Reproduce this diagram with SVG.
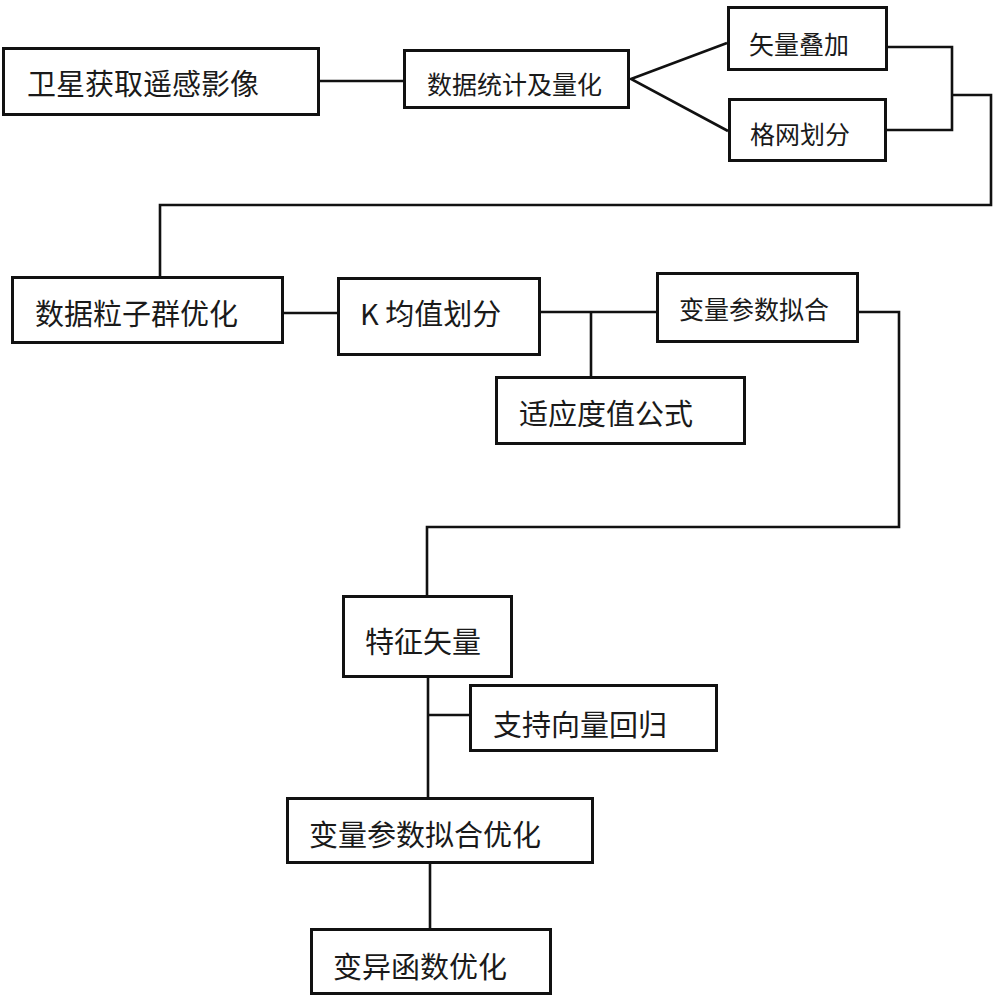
<svg xmlns="http://www.w3.org/2000/svg" width="1000" height="997" viewBox="0 0 1000 997">
<style>
.box{fill:#fff;stroke:#111;stroke-width:3}
.c{fill:none;stroke:#111;stroke-width:2.6;stroke-linejoin:miter}
text{font-family:"Noto Sans CJK SC","Liberation Serif",sans-serif;fill:#1a1a1a;dominant-baseline:central}
.f29{font-size:29px}
.f25{font-size:25px}
</style>
<rect width="1000" height="997" fill="#fff"/>
<g id="connectors">
<line class="c" x1="319" y1="81" x2="404" y2="81"/>
<polyline class="c" points="727,43 631,79 728,131"/>
<polyline class="c" points="887,47 952,47 952,130 886,130"/>
<polyline class="c" points="952,95 991,95 991,205 160,205 160,277"/>
<line class="c" x1="283" y1="313" x2="338" y2="313"/>
<line class="c" x1="540" y1="312" x2="657" y2="312"/>
<line class="c" x1="591" y1="312" x2="591" y2="377"/>
<polyline class="c" points="858,312 899,312 899,527 427,527 427,596"/>
<line class="c" x1="428" y1="676" x2="428" y2="798"/>
<line class="c" x1="428" y1="715" x2="470" y2="715"/>
<line class="c" x1="430" y1="863" x2="430" y2="929"/>
</g>
<g id="n1"><rect class="box" x="3.5" y="48.5" width="315" height="66"/><text class="f29" x="27" y="82">卫星获取遥感影像</text></g>
<g id="n2"><rect class="box" x="404.5" y="50.5" width="224" height="57"/><text class="f25" x="427" y="83">数据统计及量化</text></g>
<g id="n3"><rect class="box" x="728.5" y="7.5" width="158" height="62"/><text class="f25" x="749" y="43">矢量叠加</text></g>
<g id="n4"><rect class="box" x="729.5" y="99.5" width="156" height="61"/><text class="f25" x="750" y="133">格网划分</text></g>
<g id="n5"><rect class="box" x="12.5" y="277.5" width="270" height="65"/><text class="f29" x="35" y="312">数据粒子群优化</text></g>
<g id="n6"><rect class="box" x="338.5" y="278.5" width="201" height="76"/><text class="f29" x="360" y="312">K 均值划分</text></g>
<g id="n7"><rect class="box" x="657.5" y="273.5" width="200" height="68"/><text class="f25" x="679" y="308">变量参数拟合</text></g>
<g id="n8"><rect class="box" x="496.5" y="377.5" width="248" height="66"/><text class="f29" x="519" y="412">适应度值公式</text></g>
<g id="n9"><rect class="box" x="343.5" y="596.5" width="168" height="80"/><text class="f29" x="365" y="640">特征矢量</text></g>
<g id="n10"><rect class="box" x="470.5" y="685.5" width="246" height="65"/><text class="f29" x="493" y="723">支持向量回归</text></g>
<g id="n11"><rect class="box" x="287.5" y="798.5" width="305" height="64"/><text class="f29" x="309" y="833">变量参数拟合优化</text></g>
<g id="n12"><rect class="box" x="311.5" y="929.5" width="239" height="64"/><text class="f29" x="333" y="965">变异函数优化</text></g>
</svg>
